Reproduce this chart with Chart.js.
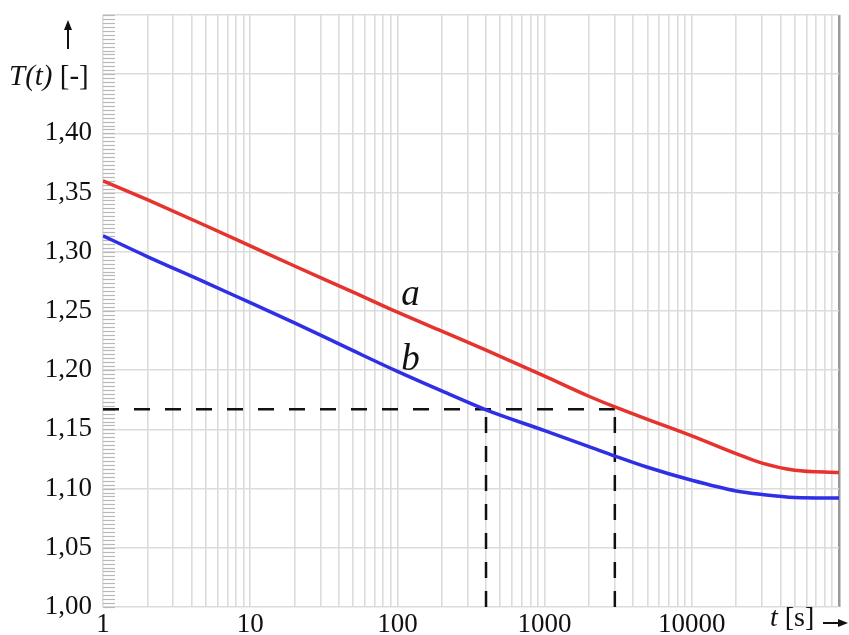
<!DOCTYPE html>
<html>
<head>
<meta charset="utf-8">
<script src="https://cdn.jsdelivr.net/npm/chart.js@4"></script>
<style>
  body { margin: 0; background: #fff; }
  #wrap { width: 849px; height: 635px; position: relative; }
</style>
</head>
<body>
<div id="wrap"><canvas id="chart"></canvas></div>
<script>
// time axis [s] and the two curves
const TIMES   = [1, 2, 5, 10, 20, 50, 100, 200, 400, 1000, 2000, 3000, 5000, 10000, 20000, 30000, 50000, 100000];
const CURVE_A = [1.360, 1.344, 1.322, 1.305, 1.288, 1.266, 1.249, 1.233, 1.217, 1.195, 1.178, 1.169, 1.1585, 1.1445, 1.1295, 1.1215, 1.1155, 1.1135];
const CURVE_B = [1.3135, 1.296, 1.274, 1.257, 1.240, 1.2165, 1.199, 1.1825, 1.1665, 1.149, 1.1355, 1.1275, 1.118, 1.107, 1.098, 1.095, 1.0925, 1.092];

const X_LABELS = [1, 10, 100, 1000, 10000];
const Y_LABELS = [1.00, 1.05, 1.10, 1.15, 1.20, 1.25, 1.30, 1.35, 1.40];

// dashed reading guides
const GUIDE_LEVEL = 1.167;
const GUIDE_T = [400, 3000];

// curve names
const CURVE_NAMES = ['a', 'b'];
const NAME_T = [106, 106];
const NAME_VALUE = [1.255, 1.2002];

const SERIF = '"Liberation Serif", "DejaVu Serif", serif';

function pts(ys) {
    return TIMES.map((t, i) => ({ x: t, y: ys[i] }));
}

const guideData = [
    [{ x: 1, y: GUIDE_LEVEL }, { x: GUIDE_T[1], y: GUIDE_LEVEL }],
    [{ x: GUIDE_T[0], y: 1.0 }, { x: GUIDE_T[0], y: GUIDE_LEVEL }],
    [{ x: GUIDE_T[1], y: 1.0 }, { x: GUIDE_T[1], y: GUIDE_LEVEL }]
];

function arrow(ctx, x1, y1, x2, y2) {
    const a = Math.atan2(y2 - y1, x2 - x1);
    ctx.beginPath();
    ctx.moveTo(x1, y1);
    ctx.lineTo(x2 - 6 * Math.cos(a), y2 - 6 * Math.sin(a));
    ctx.lineWidth = 2;
    ctx.strokeStyle = '#111';
    ctx.stroke();
    ctx.beginPath();
    ctx.moveTo(x2, y2);
    ctx.lineTo(x2 - 10 * Math.cos(a) + 4 * Math.sin(a), y2 - 10 * Math.sin(a) - 4 * Math.cos(a));
    ctx.lineTo(x2 - 10 * Math.cos(a) - 4 * Math.sin(a), y2 - 10 * Math.sin(a) + 4 * Math.cos(a));
    ctx.closePath();
    ctx.fillStyle = '#111';
    ctx.fill();
}

const decor = {
    id: 'decor',
    beforeDatasetsDraw(chart) {
        // dense tick strip along the left edge
        const ctx = chart.ctx, y = chart.scales.y, left = chart.chartArea.left;
        ctx.save();
        ctx.strokeStyle = '#b8b8b8';
        ctx.lineWidth = 1.2;
        for (let i = 0; i <= 150; i++) {
            const py = Math.round(y.getPixelForValue(1 + i / 300)) + 0.5;
            ctx.beginPath();
            ctx.moveTo(left, py);
            ctx.lineTo(left + 12, py);
            ctx.stroke();
        }
        ctx.restore();
    },
    afterDraw(chart) {
        const ctx = chart.ctx, x = chart.scales.x, y = chart.scales.y;
        ctx.save();
        ctx.fillStyle = '#111';
        ctx.textBaseline = 'alphabetic';

        // curve names
        ctx.font = 'italic 37px ' + SERIF;
        CURVE_NAMES.forEach((n, i) => {
            ctx.fillText(n, x.getPixelForValue(NAME_T[i]), y.getPixelForValue(NAME_VALUE[i]));
        });

        // y axis title
        ctx.font = 'italic 29px ' + SERIF;
        ctx.fillText('T(t)', 9, 85);
        const w = ctx.measureText('T(t) ').width;
        ctx.font = '29px ' + SERIF;
        ctx.fillText('[-]', 9 + w, 85);
        arrow(ctx, 68, 49, 68, 20);

        // x axis title
        ctx.font = 'italic 28px ' + SERIF;
        ctx.fillText('t', 770, 626);
        const w2 = ctx.measureText('t ').width;
        ctx.font = '28px ' + SERIF;
        ctx.fillText('[s]', 770 + w2, 626);
        arrow(ctx, 823, 623, 848, 623);
        ctx.restore();
    }
};

const xTicks = [];
for (let k = 0; k < 5; k++) {
    for (let m = 1; m < 10; m++) xTicks.push(m * Math.pow(10, k));
}
xTicks.push(100000);

new Chart(document.getElementById('chart'), {
    type: 'line',
    data: {
        datasets: [
            { data: pts(CURVE_A), borderColor: '#e6332e', borderWidth: 3.5, pointRadius: 0, cubicInterpolationMode: 'monotone' },
            { data: pts(CURVE_B), borderColor: '#2f2fe6', borderWidth: 3.5, pointRadius: 0, cubicInterpolationMode: 'monotone' },
            { data: guideData[0], borderColor: '#111', borderWidth: 2.5, borderDash: [16, 15], pointRadius: 0 },
            { data: guideData[1], borderColor: '#111', borderWidth: 2.5, borderDash: [16, 13], pointRadius: 0 },
            { data: guideData[2], borderColor: '#111', borderWidth: 2.5, borderDash: [16, 13], pointRadius: 0 }
        ]
    },
    options: {
        responsive: true,
        maintainAspectRatio: false,
        animation: false,
        layout: { padding: { top: 15, right: 10, left: 0, bottom: 0 } },
        plugins: { legend: { display: false }, tooltip: { enabled: false } },
        scales: {
            x: {
                type: 'logarithmic',
                min: 1,
                max: 100000,
                afterBuildTicks: (scale) => { scale.ticks = xTicks.map(v => ({ value: v })); },
                afterFit: (scale) => { scale.height = 28; scale.paddingLeft = 0; scale.paddingRight = 0; },
                border: { display: false },
                grid: {
                    drawTicks: false,
                    color: (c) => c.tick && c.tick.value === 100000 ? '#9a9a9a' : '#dcdcdc',
                    lineWidth: (c) => c.tick && c.tick.value === 100000 ? 2.5 : 1.6
                },
                ticks: {
                    autoSkip: false,
                    maxRotation: 0,
                    padding: 2,
                    color: '#111',
                    font: { family: SERIF, size: 27 },
                    callback: (v) => X_LABELS.includes(v) ? String(v) : ''
                }
            },
            y: {
                min: 1.0,
                max: 1.5,
                afterFit: (scale) => { scale.width = 103; scale.paddingTop = 0; scale.paddingBottom = 0; },
                border: { display: false },
                grid: { drawTicks: false, color: '#dcdcdc', lineWidth: 1.6 },
                ticks: {
                    stepSize: 0.025,
                    padding: 11,
                    color: '#111',
                    font: { family: SERIF, size: 27 },
                    callback: (v) => Y_LABELS.some(l => Math.abs(l - v) < 1e-6) ? v.toFixed(2).replace('.', ',') : ''
                }
            }
        }
    },
    plugins: [decor]
});
</script>
</body>
</html>
